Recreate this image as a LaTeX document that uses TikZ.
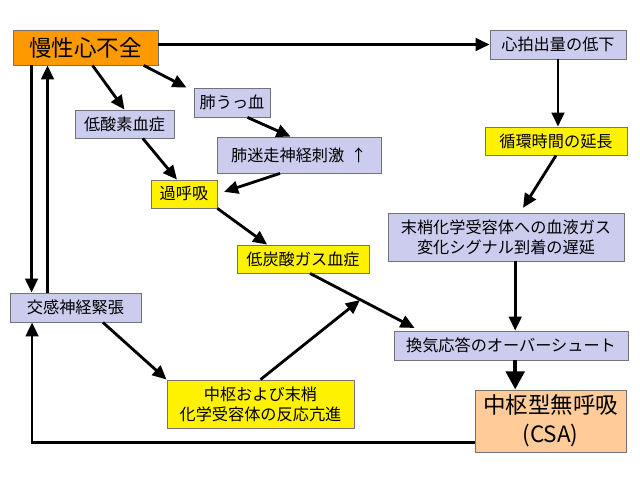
\documentclass[tikz,border=0pt]{standalone}
\usepackage{fontspec}
\setmainfont{Noto Sans CJK JP}
\usetikzlibrary{arrows.meta}

\definecolor{lavbox}{RGB}{204,204,238}
\definecolor{chforange}{RGB}{255,153,0}
\definecolor{csapeach}{RGB}{255,204,153}

\begin{document}
\begin{tikzpicture}[
  x=0.025cm, y=-0.025cm,
  box/.style={rectangle, draw=black!55, line width=0.6pt, inner sep=0pt, align=center, font=\fontsize{11.5}{14.2}\selectfont},
  sz/.style 2 args={minimum width=#1cm, minimum height=#2cm},
  lav/.style={box, fill=lavbox},
  yel/.style={box, fill=yellow},
  big/.style={font=\fontsize{16}{20.5}\selectfont},
  arrow/.style={-{Triangle[length=10pt, width=9pt]}, line width=2pt},
  bigarrow/.style={-{Triangle[length=13pt, width=13pt]}, line width=3.2pt}
]
\useasboundingbox (0,0) rectangle (640,480);

\node (chf) [box, big, fill=chforange, sz={3.625}{0.875}] at (85.5,47.5) {慢性心不全};
\node (co) [lav, sz={3.4}{0.725}] at (558,44.5) {心拍出量の低下};
\node (ct) [yel, sz={3.55}{0.7}] at (556,141) {循環時間の延長};
\node (delay) [lav, sz={5.9}{1.2}] at (506,237) {末梢化学受容体への血液ガス\\変化シグナル到着の遅延};
\node (vent) [lav, sz={5.85}{0.725}] at (511,345.5) {換気応答のオーバーシュート};
\node (csa) [box, big, fill=csapeach, sz={3.775}{1.55}] at (550.5,421) {中枢型無呼吸\\(CSA)};

\node (hypox) [lav, sz={2.475}{0.7}] at (124.5,124) {低酸素血症};
\node (pc) [lav, sz={1.9}{0.725}] at (232,102.5) {肺うっ血};
\node (vagal) [lav, sz={4.1}{0.9}] at (299,155) {肺迷走神経刺激\hspace{0.4em}↑};
\node (hyperv) [yel, sz={1.65}{0.7}] at (184,194) {過呼吸};
\node (hypocap) [yel, sz={3.3}{0.7}] at (303,259) {低炭酸ガス血症};
\node (sym) [lav, sz={3.275}{0.725}] at (75.5,307.5) {交感神経緊張};
\node (chemo) [yel, sz={4.675}{1.2}] at (260.5,404) {中枢および末梢\\化学受容体の反応亢進};
\coordinate (meet) at (360,300);

\draw [arrow] (chf.east |- co.west) -- (co.west);
\draw [arrow] (co.south) -- (co.south |- ct.north);
\draw [arrow, shorten >=4pt] (ct.south) -- ([xshift=10pt]delay.north);
\draw [arrow] ([xshift=3pt]vent.north |- delay.south) -- ([xshift=3pt]vent.north);
\draw [bigarrow] ([xshift=3pt]vent.south) -- ([xshift=3pt]vent.south |- csa.north);
\draw [arrow] ([yshift=7pt]csa.south west) -| ([xshift=16pt]sym.south west);
\draw [arrow] ([xshift=13.5pt]chf.south west) -- ([xshift=13.5pt]chf.south west |- sym.north);
\draw [arrow] ([xshift=27pt]sym.north west) -- ([xshift=27pt]sym.north west |- chf.south);

\draw [arrow] ([xshift=5pt]chf.south) -- (hypox.north);
\draw [arrow] ([xshift=-10.5pt]chf.south east) -- ([xshift=-5pt]pc.north west);
\draw [arrow] ([xshift=11pt]pc.south) -- ([xshift=-6pt]vagal.north);
\draw [arrow] ([xshift=13pt]hypox.south) -- ([xshift=-5pt]hyperv.north);
\draw [arrow, shorten >=5pt] ([xshift=-13.5pt]vagal.south) -- (hyperv.east);
\draw [arrow] (hyperv.south east) -- ([xshift=-25.5pt]hypocap.north);
\draw [arrow, shorten >=4pt] ([xshift=5pt]hypocap.south) -- ([xshift=18.5pt]vent.north west);
\draw [arrow] ([xshift=19.5pt]sym.south) -- (chemo.north west);
\draw [arrow] (chemo.north) -- (meet);

\end{tikzpicture}
\end{document}
